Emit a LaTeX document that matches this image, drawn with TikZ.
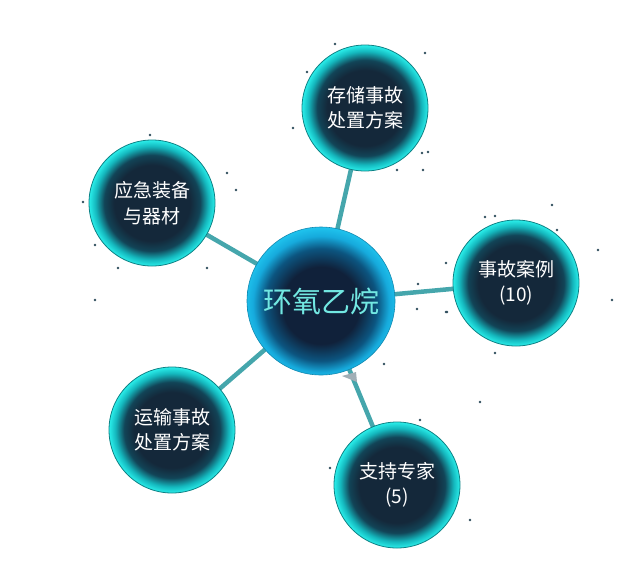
\documentclass[tikz,border=0pt]{standalone}
\usepackage{fontspec}
\newfontfamily\cjk{Noto Sans CJK SC}
\definecolor{ob0}{HTML}{14283A}
\definecolor{ob1}{HTML}{124457}
\definecolor{ob2}{HTML}{14B8BE}
\definecolor{ob3}{HTML}{2AEEEA}
\definecolor{cb0}{HTML}{10213A}
\definecolor{cb1}{HTML}{0C5580}
\definecolor{cb2}{HTML}{16AADC}
\definecolor{cb3}{HTML}{22CCF4}
\definecolor{linkc}{HTML}{45A6AC}
\definecolor{dotc}{HTML}{2E4D5C}
\definecolor{ctext}{HTML}{72E8E2}
\pgfdeclareradialshading{outerball}{\pgfpoint{0bp}{0bp}}{color(0bp)=(ob0); color(15bp)=(ob0); color(19bp)=(ob1); color(22.5bp)=(ob2); color(25bp)=(ob3); color(50bp)=(ob3)}
\pgfdeclareradialshading{centerball}{\pgfpoint{0bp}{-2bp}}{color(0bp)=(cb0); color(13bp)=(cb0); color(19bp)=(cb1); color(23bp)=(cb2); color(27bp)=(cb3); color(50bp)=(cb3)}
\tikzset{
  leaf/.style={circle, minimum size=126pt, inner sep=0pt, shading=outerball, draw=ob2!70!black, line width=0.8pt,
    font=\cjk\fontsize{19}{25.5}\selectfont, text=white, align=center},
  hub/.style={circle, minimum size=148pt, inner sep=0pt, shading=centerball, draw=cb2!80!black, line width=0.6pt,
    font=\cjk\fontsize{29}{34}\selectfont, text=ctext},
  link/.style={draw=linkc, line width=4.5pt},
  speck/.style={fill=dotc}
}
\begin{document}
\begin{tikzpicture}[x=1pt,y=-1pt]
\useasboundingbox (0,0) rectangle (639,582);
% link end points
\coordinate (hc) at (321,301);
\coordinate (c1) at (365,108);
\coordinate (c2) at (152,203);
\coordinate (c3) at (516,283);
\coordinate (c4) at (172,430);
\coordinate (c5) at (397,485);
\draw[link] (hc) -- (c1);
\draw[link] (hc) -- (c2);
\draw[link] (hc) -- (c3);
\draw[link] (hc) -- (c4);
\draw[link] (hc) -- (c5);
\fill[dotc!45] (342,376) -- (356,372) -- (357,382) -- cycle;
% specks
\foreach \p in {(335,44),(307,72),(425,53),(293,128),(422,153),(428,152),(423,170),(397,170),
  (485,217),(495,216),(557,230),(446,263),(446,312),(495,353),(418,284),(417,309),(447,312),
  (227,173),(83,202),(95,245),(384,364),(207,268),(118,268),(236,190),(552,205),(598,250),(612,300),
  (480,402),(330,468),(470,520),(150,135),(95,300),(420,420)}
  \fill[speck] \p circle (1.3);
% nodes
\node[leaf] (n1) at (c1) {存储事故\\处置方案};
\node[leaf] (n2) at (c2) {应急装备\\与器材};
\node[leaf] (n3) at (c3) {事故案例\\(10)};
\node[leaf] (n4) at (c4) {运输事故\\处置方案};
\node[leaf] (n5) at (c5) {支持专家\\(5)};
\node[hub] (h) at (hc) {环氧乙烷};
\end{tikzpicture}
\end{document}
